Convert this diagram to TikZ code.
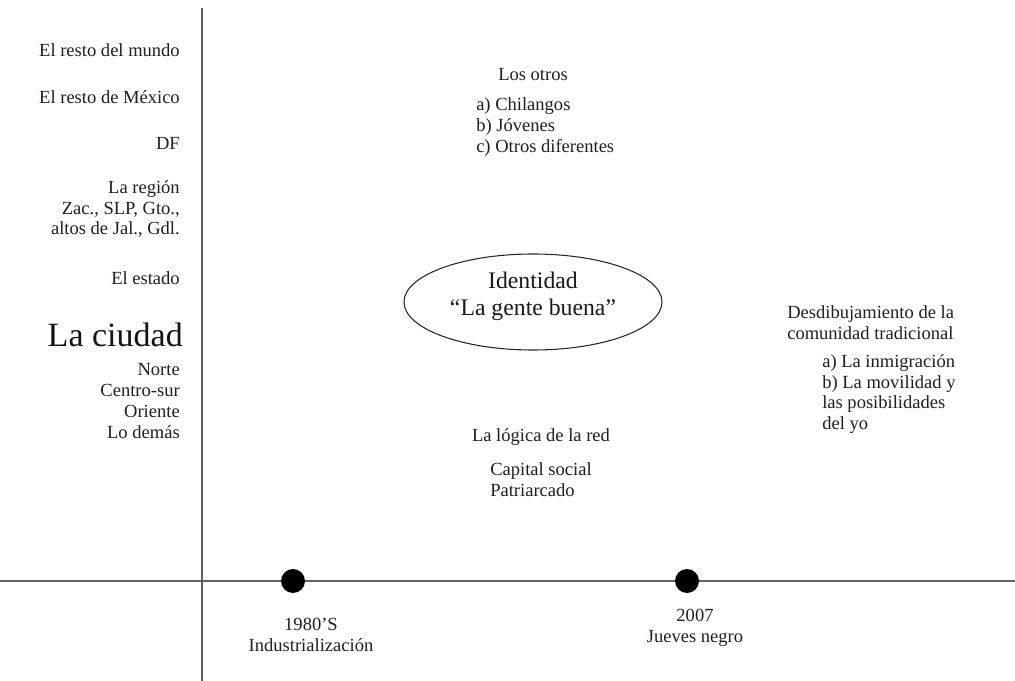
\documentclass[tikz,border=0pt]{standalone}
\usepackage{fontspec}
\setmainfont{Liberation Serif}
\usetikzlibrary{shapes.geometric}
\begin{document}
\begin{tikzpicture}[x=0.75pt,y=-0.75pt,
  lbl/.style={inner sep=0pt, font=\fontsize{13.9}{15.6}\selectfont, text=black!88},
  axisline/.style={line width=1.5pt, draw=black!62},
  dot/.style={circle, fill=black, inner sep=0pt, minimum size=18pt},
  oval/.style={ellipse, draw=black!85, line width=0.8pt, minimum width=193.5pt, minimum height=72pt, inner sep=0pt}]
\useasboundingbox (0,0) rectangle (1015,681);
% axes
\coordinate (vtop) at (202,8);
\coordinate (vbot) at (202,681);
\coordinate (hl) at (0,581);
\coordinate (hr) at (1015,581);
\draw[axisline] (vtop) -- (vbot);
\draw[axisline] (hl) -- (hr);
% timeline dots
\node[dot] (d1980) at (293,581) {};
\node[dot] (d2007) at (687,581) {};
\node[lbl, align=center] (t1980) at (311,635) {1980’S\\Industrialización};
\node[lbl, align=center] (t2007) at (695,628) {2007\\Jueves negro};
% left scale
\node[lbl, anchor=east] (mundo) at (180,50) {El resto del mundo};
\node[lbl, anchor=east] (mexico) at (180,97) {El resto de México};
\node[lbl, anchor=east] (df) at (180,143) {DF};
\node[lbl, anchor=east, align=right] (region) at (180,209) {La región\\Zac., SLP, Gto.,\\altos de Jal., Gdl.};
\node[lbl, anchor=east] (estado) at (180,278) {El estado};
\node[inner sep=0pt, anchor=east, font=\fontsize{25.5}{28}\selectfont, text=black!92] (ciudad) at (183,335) {La ciudad};
\node[lbl, anchor=east, align=right] (zonas) at (180,401) {Norte\\Centro-sur\\Oriente\\Lo demás};
% center
\node[lbl] (otros) at (533,75) {Los otros};
\node[lbl, anchor=west, align=left] (otroslist) at (476,127) {a) Chilangos\\b) Jóvenes\\c) Otros diferentes};
\node[oval] (ident) at (533,302) {};
\node[inner sep=0pt, align=center, font=\fontsize{17.8}{20.5}\selectfont, text=black!90] (identtxt) at (533,296) {Identidad\\“La gente buena”};
\node[lbl] (logica) at (541,437) {La lógica de la red};
\node[lbl, anchor=west, align=left] (capital) at (490,480) {Capital social\\Patriarcado};
% right
\node[lbl, anchor=west, align=left] (desdib) at (787,323) {Desdibujamiento de la\\comunidad tradicional};
\node[lbl, anchor=west, align=left] (desdiblist) at (822,394) {a) La inmigración\\b) La movilidad y\\las posibilidades\\del yo};
\end{tikzpicture}
\end{document}
